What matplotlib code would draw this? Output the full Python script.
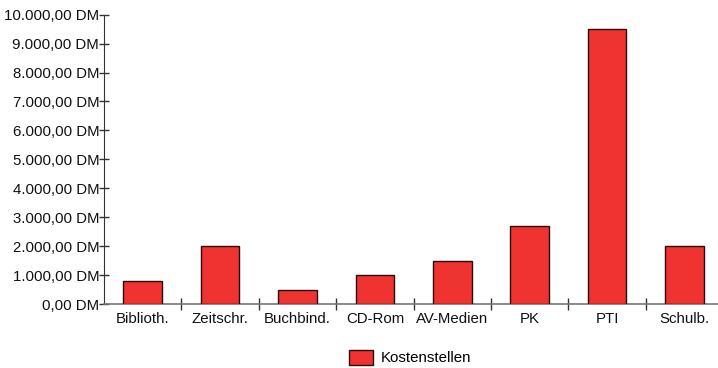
import matplotlib
matplotlib.use("Agg")
import matplotlib.pyplot as plt
from matplotlib.ticker import FuncFormatter, FixedLocator
from matplotlib.patches import Patch

categories = ["Biblioth.", "Zeitschr.", "Buchbind.", "CD-Rom", "AV-Medien", "PK", "PTI", "Schulb."]
values = [780, 2000, 500, 1000, 1500, 2700, 9500, 2000]
series_name = "Kostenstellen"
yticks = list(range(0, 10001, 1000))

plt.rcParams['font.family'] = ['Liberation Sans', 'DejaVu Sans']

fig = plt.figure(figsize=(7.18, 3.68), dpi=100)
W, H = 718, 368
left_px, right_px, top_px, bottom_px = 104, 718, 14.7, 304
ax = fig.add_axes([left_px / W, (H - bottom_px) / H, (right_px - left_px) / W, (bottom_px - top_px) / H])

x = list(range(len(categories)))
ax.bar(x, values, width=0.5, color="#EE3330", edgecolor="#2a0a0a", linewidth=1.0, zorder=3)

step = 77.4
ax.set_xlim(-0.5, -0.5 + (right_px - left_px) / step)
ax.set_ylim(0, 10000)

ax.yaxis.set_major_locator(FixedLocator(yticks))
def fmt(v, pos):
    s = f"{v:,.2f}".replace(",", "X").replace(".", ",").replace("X", ".")
    return s + " DM"
ax.yaxis.set_major_formatter(FuncFormatter(fmt))

ax.set_xticks([i + 0.5 for i in range(len(categories) - 1)])
ax.set_xticklabels([])
ax.set_xticks(x, minor=True)
ax.set_xticklabels(categories, minor=True)
ax.tick_params(axis='x', which='major', direction='inout', length=8, width=1, color="#333333")
ax.tick_params(axis='x', which='minor', length=0, pad=6, labelsize=10.8, labelcolor="#111111")
ax.tick_params(axis='y', direction='inout', length=7, width=1, color="#333333", pad=0, labelsize=10.8, labelcolor="#111111")

for s in ["top", "right"]:
    ax.spines[s].set_visible(False)
ax.spines["left"].set_color("#333333")
ax.spines["bottom"].set_color("#777777")
ax.spines["bottom"].set_linewidth(1.2)

handles = [Patch(facecolor="#EE3330", edgecolor="#2a0a0a", linewidth=1.0, label=series_name)]
fig.legend(handles=handles, loc="center", bbox_to_anchor=(410 / W, (H - 357.5) / H), frameon=False,
           fontsize=10.8, handlelength=1.6, handleheight=1.2, handletextpad=0.5)

fig.savefig("out.png", dpi=100)
